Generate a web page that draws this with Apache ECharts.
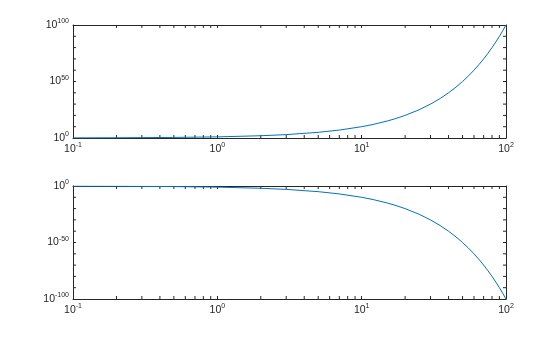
<!DOCTYPE html>
<html>
<head>
<meta charset="utf-8">
<script src="https://cdn.jsdelivr.net/npm/echarts@6/dist/echarts.min.js"></script>
<style>
html,body{margin:0;padding:0;background:#fff;}
#c{width:560px;height:337px;}
</style>
</head>
<body>
<div id="c"></div>
<script>
// x values (log axis)
const xValues = [0.1, 0.2, 0.5, 1, 2, 3, 5, 7, 10, 12, 15, 17, 20, 25, 30, 35, 40, 45, 50, 55, 60, 65, 70, 75, 80, 85, 90, 95, 100];
// top subplot: y grows
const yTop = [1.26, 1.58, 3.16, 10, 1e2, 1e3, 1e5, 1e7, 1e10, 1e12, 1e15, 1e17, 1e20, 1e25, 1e30, 1e35, 1e40, 1e45, 1e50, 1e55, 1e60, 1e65, 1e70, 1e75, 1e80, 1e85, 1e90, 1e95, 1e100];
// bottom subplot: y decays
const yBottom = [0.794, 0.631, 0.316, 0.1, 1e-2, 1e-3, 1e-5, 1e-7, 1e-10, 1e-12, 1e-15, 1e-17, 1e-20, 1e-25, 1e-30, 1e-35, 1e-40, 1e-45, 1e-50, 1e-55, 1e-60, 1e-65, 1e-70, 1e-75, 1e-80, 1e-85, 1e-90, 1e-95, 1e-100];
// tick positions
const xMinorTicks = [0.2,0.3,0.4,0.5,0.6,0.7,0.8,0.9,2,3,4,5,6,7,8,9,20,30,40,50,60,70,80,90];
const yMinorTop = [1e10,1e20,1e30,1e40,1e60,1e70,1e80,1e90];
const yMinorBottom = [1e-10,1e-20,1e-30,1e-40,1e-60,1e-70,1e-80,1e-90];

const AX = '#262626';
const FONT = 'Liberation Sans, Arial, Helvetica, sans-serif';
const TL = 3;

// The bottom subplot's tiny values (down to 1e-100) are shown on an inverted
// log axis of their reciprocals, because ECharts rounds 1e-100 extents to 0.
const recip = v => 1 / v;

function expLabel(v) {
  const e = Math.round(Math.log10(v));
  return '{b|10}{s|' + e + '}';
}
function negExpLabel(v) {
  const e = Math.round(Math.log10(v));
  return '{b|10}{s|' + (e === 0 ? 0 : -e) + '}';
}
const rich = {
  b: {fontSize: 10.5, fontFamily: FONT, color: AX},
  s: {fontSize: 7, fontFamily: FONT, color: AX, padding: [0, 0, 7, 0]}
};

function xAx(grid, pos) {
  return {
    gridIndex: grid, type: 'log', logBase: 10, min: 0.1, max: 100, interval: 1,
    position: pos,
    axisLine: {show: true, lineStyle: {color: AX, width: 1}},
    axisTick: {show: true, inside: true, length: TL, lineStyle: {color: AX}},
    axisLabel: pos === 'bottom' ? {show: true, formatter: expLabel, rich: rich, margin: 4} : {show: false},
    splitLine: {show: false}, minorTick: {show: false}
  };
}
function yAx(grid, pos, inverse, fmt) {
  return {
    gridIndex: grid, type: 'log', logBase: 10, min: 1, max: 1e100, interval: 50,
    position: pos, inverse: inverse,
    axisLine: {show: true, lineStyle: {color: AX, width: 1}},
    axisTick: {show: true, inside: true, length: TL, lineStyle: {color: AX}},
    axisLabel: pos === 'left' ? {show: true, formatter: fmt, rich: rich, margin: 4} : {show: false},
    splitLine: {show: false}, minorTick: {show: false}
  };
}

function xTickSeries(xi, yi) {
  return {
    type: 'custom', xAxisIndex: xi, yAxisIndex: yi, silent: true, clip: false,
    data: xMinorTicks.map(v => [v, 1]),
    renderItem: function (params, api) {
      const cs = params.coordSys;
      const px = api.coord([api.value(0), api.value(1)])[0];
      const st = {stroke: AX, lineWidth: 1};
      return {type: 'group', children: [
        {type: 'line', shape: {x1: px, y1: cs.y, x2: px, y2: cs.y + TL}, style: st},
        {type: 'line', shape: {x1: px, y1: cs.y + cs.height, x2: px, y2: cs.y + cs.height - TL}, style: st}
      ]};
    }
  };
}
function yTickSeries(xi, yi, vals) {
  return {
    type: 'custom', xAxisIndex: xi, yAxisIndex: yi, silent: true, clip: false,
    data: vals.map(v => [1, v]),
    renderItem: function (params, api) {
      const cs = params.coordSys;
      const py = api.coord([api.value(0), api.value(1)])[1];
      const st = {stroke: AX, lineWidth: 1};
      return {type: 'group', children: [
        {type: 'line', shape: {x1: cs.x, y1: py, x2: cs.x + TL, y2: py}, style: st},
        {type: 'line', shape: {x1: cs.x + cs.width, y1: py, x2: cs.x + cs.width - TL, y2: py}, style: st}
      ]};
    }
  };
}

const chart = echarts.init(document.getElementById('c'), null, {renderer: 'canvas'});
chart.setOption({
  backgroundColor: '#fff',
  animation: false,
  grid: [
    {left: 73, top: 25, width: 433, height: 113},
    {left: 73, top: 186, width: 433, height: 113}
  ],
  xAxis: [xAx(0, 'bottom'), xAx(0, 'top'), xAx(1, 'bottom'), xAx(1, 'top')],
  yAxis: [yAx(0, 'left', false, expLabel), yAx(0, 'right', false, expLabel),
          yAx(1, 'left', true, negExpLabel), yAx(1, 'right', true, negExpLabel)],
  series: [
    {type: 'line', xAxisIndex: 0, yAxisIndex: 0, data: xValues.map((x, i) => [x, yTop[i]]),
     showSymbol: false, symbol: 'none', lineStyle: {color: '#0072BD', width: 1}, silent: true},
    {type: 'line', xAxisIndex: 2, yAxisIndex: 2, data: xValues.map((x, i) => [x, recip(yBottom[i])]),
     showSymbol: false, symbol: 'none', lineStyle: {color: '#0072BD', width: 1}, silent: true},
    xTickSeries(0, 0), xTickSeries(2, 2),
    yTickSeries(0, 0, yMinorTop), yTickSeries(2, 2, yMinorBottom.map(recip))
  ]
});
</script>
</body>
</html>
